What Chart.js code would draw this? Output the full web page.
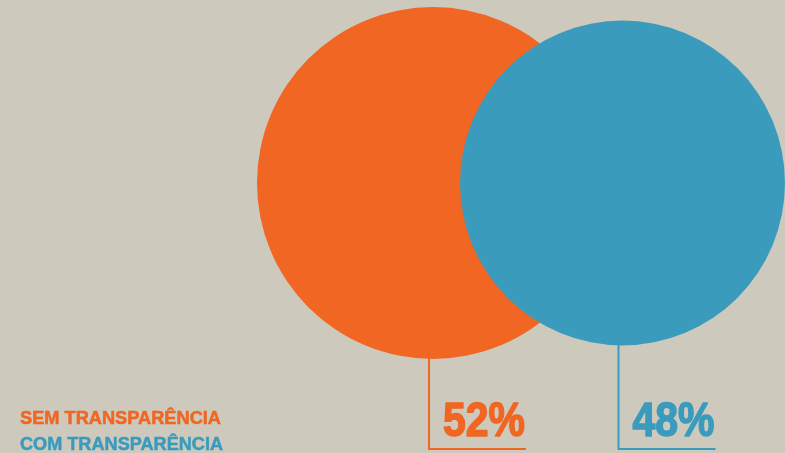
<!DOCTYPE html>
<html>
<head>
<meta charset="utf-8">
<script src="https://cdn.jsdelivr.net/npm/chart.js@4/dist/chart.umd.min.js"></script>
<style>
  html, body { margin: 0; padding: 0; background: #cdc9bc; }
  #wrap { width: 785px; height: 453px; position: relative; }
</style>
</head>
<body>
<div id="wrap"><canvas id="chart"></canvas></div>
<script>
// Share of bodies with / without transparency
const categories = ['SEM TRANSPARÊNCIA', 'COM TRANSPARÊNCIA'];
const shares = [52, 48];
const valueLabels = ['52%', '48%'];
const colors = ['#f06622', '#3a9bbd'];

// bubble radius grows linearly with the share
const PX_PER_POINT = 176 / 52;

// bubbles may run past the plot edges; don't reserve room for them
Chart.registry.getController('bubble').prototype.getMaxOverflow = () => false;

const datasets = categories.map((name, i) => ({
  label: name,
  data: [{ x: i, y: 0 }],
  backgroundColor: colors[i],
  borderWidth: 0,
  radius: () => shares[i] * PX_PER_POINT,
  hoverRadius: 0,
  clip: false,
  order: categories.length - i   // later series painted on top
}));

function condensedText(ctx, text, x, y, width, stroke) {
  const w = ctx.measureText(text).width;
  ctx.save();
  ctx.translate(x, y);
  ctx.scale(width / w, 1);
  ctx.fillText(text, 0, 0);
  if (stroke) {
    ctx.lineWidth = stroke;
    ctx.lineJoin = 'round';
    ctx.strokeText(text, 0, 0);
  }
  ctx.restore();
}

// leader lines, big percentages and the colour-coded legend
const annotate = {
  id: 'annotate',
  afterDatasetsDraw(chart) {
    const ctx = chart.ctx;
    const baseY = 449;
    ctx.save();
    ctx.textBaseline = 'alphabetic';
    ctx.textAlign = 'left';
    chart.data.datasets.forEach((ds, i) => {
      const el = chart.getDatasetMeta(i).data[0];
      const r = shares[i] * PX_PER_POINT;
      const lx = el.x - 4;
      ctx.strokeStyle = colors[i];
      ctx.lineWidth = 2;
      ctx.beginPath();
      ctx.moveTo(lx, el.y + r - 1);
      ctx.lineTo(lx, baseY);
      ctx.lineTo(lx + 97, baseY);
      ctx.stroke();

      ctx.fillStyle = colors[i];
      ctx.font = 'bold 49px "Liberation Sans", Arial, sans-serif';
      condensedText(ctx, valueLabels[i], lx + 14, 436, 82, 1.6);
    });

    // legend
    ctx.font = 'bold 18px "Liberation Sans", Arial, sans-serif';
    const legendWidths = [201, 203];
    categories.forEach((name, i) => {
      ctx.fillStyle = colors[i];
      ctx.strokeStyle = colors[i];
      condensedText(ctx, name, 20, 424 + i * 26, legendWidths[i], 0.5);
    });
    ctx.restore();
  }
};

new Chart(document.getElementById('chart'), {
  type: 'bubble',
  data: { datasets },
  options: {
    responsive: true,
    maintainAspectRatio: false,
    animation: false,
    events: [],
    layout: { padding: 0 },
    plugins: {
      legend: { display: false },
      tooltip: { enabled: false }
    },
    scales: {
      x: { type: 'linear', display: false, min: -433 / 189.5, max: (785 - 433) / 189.5 },
      y: { type: 'linear', display: false, min: -(453 - 183) / 100, max: 183 / 100 }
    }
  },
  plugins: [annotate]
});
</script>
</body>
</html>
